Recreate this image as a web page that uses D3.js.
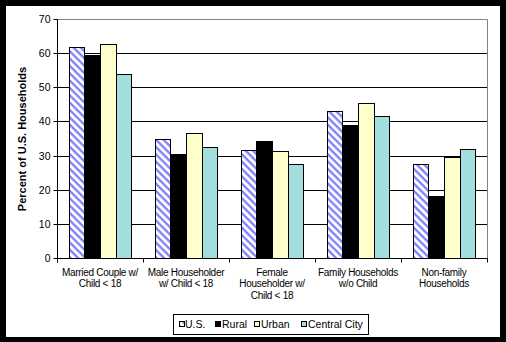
<!DOCTYPE html>
<html>
<head>
<meta charset="utf-8">
<script src="https://cdn.jsdelivr.net/npm/d3@7"></script>
<style>
  html, body { margin: 0; padding: 0; background: #000; }
  svg { display: block; }
  text { font-family: Arial, "Liberation Sans", sans-serif; fill: #000; }
</style>
</head>
<body>
<svg id="chart" width="506" height="342"></svg>
<script>
// ---- Data ----
const categories = [
  ["Married Couple w/", "Child < 18"],
  ["Male Householder", "w/ Child < 18"],
  ["Female", "Householder w/", "Child < 18"],
  ["Family Households", "w/o Child"],
  ["Non-family", "Households"]
];
const seriesNames = ["U.S.", "Rural", "Urban", "Central City"];
const usValues      = [61.7, 35.0, 31.7, 43.2, 27.6];
const ruralValues   = [59.5, 30.6, 34.4, 39.1, 18.3];
const urbanValues   = [62.7, 36.6, 31.4, 45.3, 29.7];
const centralValues = [53.9, 32.6, 27.6, 41.6, 32.0];
const yTicks = [0, 10, 20, 30, 40, 50, 60, 70];

const seriesValues = [usValues, ruralValues, urbanValues, centralValues];
const fills = ["url(#hatch)", "#000000", "#ffffcc", "#a3dede"];

// ---- Layout ----
const svg = d3.select("#chart");
const W = 506, H = 342;
const plot = { left: 57, right: 487, top: 19.5, bottom: 258.5 };

svg.append("rect").attr("x", 0).attr("y", 0).attr("width", W).attr("height", H).attr("fill", "#000");
svg.append("rect").attr("x", 6).attr("y", 6).attr("width", 494).attr("height", 331).attr("fill", "#fff");

const defs = svg.append("defs");
const pat = defs.append("pattern").attr("id", "hatch")
  .attr("patternUnits", "userSpaceOnUse").attr("width", 5.2).attr("height", 5.2)
  .attr("patternTransform", "rotate(45)");
pat.append("rect").attr("width", 5.2).attr("height", 5.2).attr("fill", "#fff");
pat.append("rect").attr("x", 0).attr("y", 0).attr("width", 5.2).attr("height", 2.3).attr("fill", "#8080ff");

const y = d3.scaleLinear().domain([0, 70]).range([plot.bottom, plot.top]);
const x0 = d3.scaleBand().domain(d3.range(categories.length)).range([plot.left, plot.right]).paddingInner(0).paddingOuter(0);
const bw = x0.bandwidth();
const barW = bw / (seriesNames.length + 1.5);
const x1 = d3.scaleBand().domain(d3.range(seriesNames.length))
  .range([0.75 * barW, 0.75 * barW + seriesNames.length * barW]).padding(0);

const crisp = v => Math.round(v - 0.5) + 0.5;

// gridlines
svg.append("g").selectAll("line").data(yTicks.filter(t => t > 0 && t < 70)).join("line")
  .attr("x1", plot.left).attr("x2", plot.right)
  .attr("y1", d => crisp(y(d))).attr("y2", d => crisp(y(d)))
  .attr("stroke", "#000").attr("stroke-width", 1);

// plot border (top & right gray)
svg.append("path")
  .attr("d", `M${plot.left},${crisp(y(70))}H${crisp(plot.right)}V${crisp(y(0))}`)
  .attr("fill", "none").attr("stroke", "#808080").attr("stroke-width", 1);

// bars
const groups = svg.append("g").selectAll("g").data(categories.map((c, i) => i)).join("g")
  .attr("transform", i => `translate(${x0(i)},0)`);
groups.selectAll("rect").data(i => seriesValues.map((vals, s) => ({ s, v: vals[i] }))).join("rect")
  .attr("x", d => Math.round(x1(d.s)) + 0.5)
  .attr("width", d => Math.round(x1(d.s) + barW) - Math.round(x1(d.s)))
  .attr("y", d => crisp(y(d.v)))
  .attr("height", d => crisp(y(0)) - crisp(y(d.v)))
  .attr("fill", d => fills[d.s])
  .attr("stroke", "#000").attr("stroke-width", 1);

// y axis
const yAxis = d3.axisLeft(y).tickValues(yTicks).tickSize(4).tickPadding(3).tickFormat(d3.format("d"));
const gy = svg.append("g").attr("transform", `translate(${crisp(plot.left)},0)`).call(yAxis);
gy.select(".domain").attr("d", `M0,${crisp(y(70))}V${crisp(y(0)) + 4}`).attr("stroke", "#000");
gy.selectAll(".tick line").attr("stroke", "#000");
gy.selectAll(".tick").attr("transform", d => `translate(0,${crisp(y(d))})`);
gy.selectAll(".tick text").attr("font-size", "10.5px").attr("font-family", "Arial, 'Liberation Sans', sans-serif");

// x axis
const gx = svg.append("g").attr("transform", `translate(0,${crisp(y(0))})`);
gx.append("line").attr("x1", plot.left).attr("x2", plot.right + 1).attr("y1", 0).attr("y2", 0).attr("stroke", "#000");
const boundaries = d3.range(categories.length + 1).map(i => i < categories.length ? x0(i) : x0(i - 1) + bw);
gx.selectAll("line.tk").data(boundaries).join("line").attr("class", "tk")
  .attr("x1", d => crisp(d)).attr("x2", d => crisp(d)).attr("y1", 0).attr("y2", 4).attr("stroke", "#000");
const lab = gx.selectAll("text.cat").data(categories).join("text").attr("class", "cat")
  .attr("x", (d, i) => x0(i) + bw / 2).attr("y", 17.5)
  .attr("text-anchor", "middle").attr("font-size", "10px").attr("letter-spacing", "-0.3px");
lab.selectAll("tspan").data(d => d).join("tspan")
  .attr("x", function() { return d3.select(this.parentNode).attr("x"); })
  .attr("dy", (d, i) => i === 0 ? 0 : 11.3)
  .text(d => d);

// y title
svg.append("text")
  .attr("transform", `translate(26,${(plot.top + plot.bottom) / 2}) rotate(-90)`)
  .attr("text-anchor", "middle").attr("font-size", "11px").attr("font-weight", "bold")
  .text("Percent of U.S. Households");

// legend
const legendX = [179, 215, 254, 301];
const lg = svg.append("g");
lg.append("rect").attr("x", 173.5).attr("y", 314.5).attr("width", 195).attr("height", 20)
  .attr("fill", "#fff").attr("stroke", "#000");
const items = lg.selectAll("g").data(seriesNames).join("g")
  .attr("transform", (d, i) => `translate(${legendX[i]},0)`);
items.append("rect").attr("x", 0.5).attr("y", 321.5).attr("width", 5).attr("height", 5)
  .attr("fill", (d, i) => fills[i]).attr("stroke", "#000");
items.append("text").attr("x", (d, i) => i === 0 ? 6 : 7).attr("y", 328).attr("font-size", "10.5px").text(d => d);
</script>
</body>
</html>
